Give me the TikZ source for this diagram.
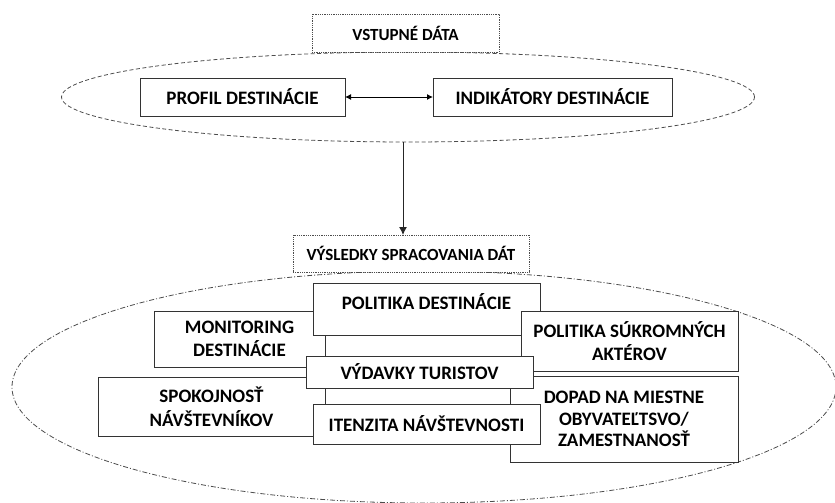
\documentclass[tikz,border=0pt]{standalone}
\usepackage{fontspec}
\setmainfont{Carlito}
\usetikzlibrary{shapes.geometric,arrows.meta}

\tikzset{
  box/.style={draw=black!80, line width=1pt, fill=white, inner sep=0pt, outer sep=0pt,
    align=center, font=\fontsize{19}{23.5}\selectfont\bfseries},
  headbox/.style={draw=black!70, densely dotted, line width=0.8pt, fill=white, inner sep=0pt,
    outer sep=0pt, font=\fontsize{17}{20}\selectfont\bfseries},
  cloud/.style={ellipse, draw=black!70, line width=0.8pt, inner sep=0pt, outer sep=0pt},
  tip/.style={-{Latex[length=8pt,width=8pt]}, line width=1pt, black!85},
}

\begin{document}
\begin{tikzpicture}[x=1pt,y=-1pt]
	\useasboundingbox (0,0) rectangle (835,503);
	% vstupy
	\node [cloud, dash pattern=on 4pt off 2.5pt, minimum width=693pt, minimum height=90pt] (vstupy) at (408,97) {};
	\node [headbox, minimum width=187pt, minimum height=38pt] (vstup) at (405.5,33) {VSTUPNÉ DÁTA};
	\node [box, minimum width=205pt, minimum height=38pt] (profil) at (242.5,97) {PROFIL DESTINÁCIE};
	\node [box, minimum width=239pt, minimum height=38pt] (indikatory) at (552.5,97) {INDIKÁTORY DESTINÁCIE};
	\draw [{Latex[length=6pt,width=6pt]}-{Latex[length=6pt,width=6pt]}, line width=1pt] (profil) -- (indikatory);
	% vysledky
	\node [cloud, dash pattern=on 5pt off 2pt on 1pt off 2pt, minimum width=824pt, minimum height=232pt] (vysledky) at (424,387) {};
	\node [headbox, minimum width=236pt, minimum height=37pt] (vysl) at (411,253.5) {VÝSLEDKY SPRACOVANIA DÁT};
	\draw [tip] ([xshift=-5pt]vstupy.south) -- ([xshift=-5pt]vstupy.south |- vysl.north);
	% boxy vo vnutri
	\node [box, minimum width=171pt, minimum height=56pt] (monitoring) at (239.5,339) {MONITORING\\DESTINÁCIE};
	\node [box, minimum width=227pt, minimum height=52pt] (polDest) at (426.5,309) {};
	\node [box, draw=none, fill=none] (polDestTxt) at (426.5,302) {POLITIKA DESTINÁCIE};
	\node [box, minimum width=217pt, minimum height=60pt] (polSukr) at (629.5,341) {POLITIKA SÚKROMNÝCH\\AKTÉROV};
	\node [box, minimum width=227pt, minimum height=59pt] (spokojnost) at (211.5,406.5) {SPOKOJNOSŤ\\NÁVŠTEVNÍKOV};
	\node [box, minimum width=228pt, minimum height=86pt, font=\fontsize{19}{21.5}\selectfont\bfseries] (dopad) at (624,419) {DOPAD NA MIESTNE\\OBYVATEĽTSVO/\\ZAMESTNANOSŤ};
	\node [box, minimum width=227pt, minimum height=32pt] (vydavky) at (419.5,372) {VÝDAVKY TURISTOV};
	\node [box, minimum width=227pt, minimum height=40pt] (itenzita) at (426.5,424) {ITENZITA NÁVŠTEVNOSTI};
\end{tikzpicture}
\end{document}
